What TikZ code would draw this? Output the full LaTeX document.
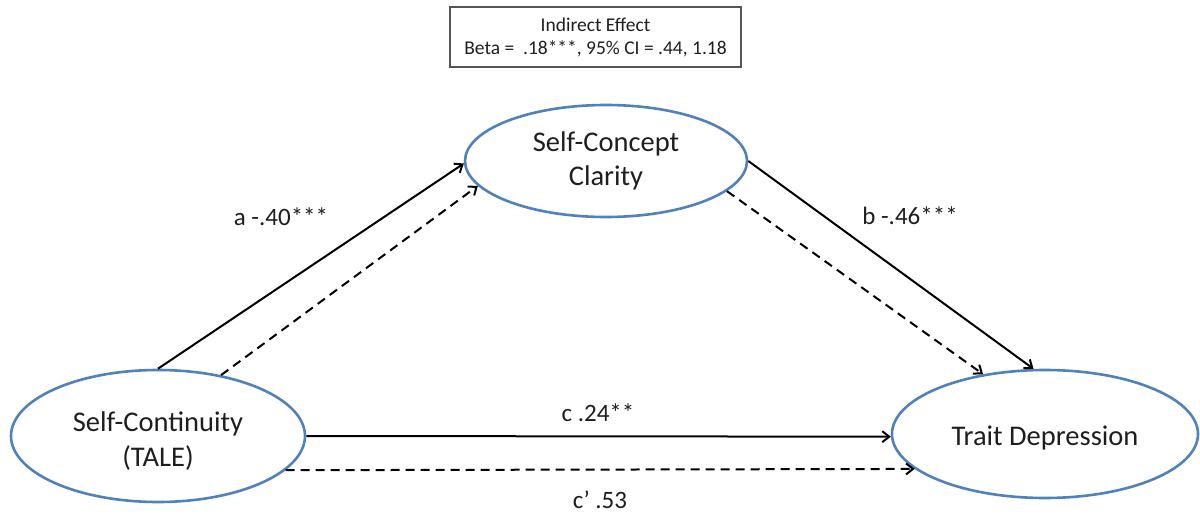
\documentclass[tikz,border=0pt]{standalone}
\usepackage{fontspec}
\setmainfont{Carlito}
\usetikzlibrary{shapes.geometric,arrows.meta}
\definecolor{ovalblue}{RGB}{79,129,189}
\definecolor{boxgray}{RGB}{85,85,85}
\definecolor{inkgray}{RGB}{30,30,30}
\begin{document}
\begin{tikzpicture}[x=1pt,y=-1pt,
  construct/.style={ellipse, draw=ovalblue, line width=2.6pt, inner sep=0pt,
    align=center, text=inkgray, font=\fontsize{28.5}{34}\selectfont},
  effect/.style={line width=2pt, -{Straight Barb[length=7pt,width=11pt]}},
  indirect/.style={effect, dash pattern=on 9pt off 6pt},
  coef/.style={text=inkgray, font=\fontsize{25}{30}\selectfont, inner sep=0pt},
  summary/.style={draw=boxgray, line width=1.3pt, minimum width=291pt,
    minimum height=60pt, align=center, text=inkgray,
    font=\fontsize{19.5}{23}\selectfont}
]
\useasboundingbox (0,0) rectangle (1200,516);

% summary of the indirect effect
\node[summary] (ie) at (595.5,37) {Indirect Effect\\Beta =\ \ .18***, 95\% CI = .44, 1.18};

% constructs
\node[construct, minimum width=282pt, minimum height=112pt] (scc) at (606,161) {Self-Concept\\Clarity};
\node[construct, minimum width=294pt, minimum height=132pt,
  font=\fontsize{28.5}{35}\selectfont, text height=67pt, text depth=7pt] (sc) at (158,436) {Self-Continuity\\(TALE)};
\node[construct, minimum width=306pt, minimum height=128pt,
  text height=28pt, text depth=6pt] (td) at (1045,434) {Trait Depression};

% direct paths (solid) and mediated paths (dashed)
\draw[effect] (sc.90) -- (scc.181);
\draw[indirect] (sc.44.5) -- (scc.191);
\draw[effect] (scc.0) -- (td.100.6);
\draw[indirect] (scc.346.6) -- (td.136.9);
\draw[effect] (sc.0) -- (td.181);
\draw[indirect] (sc.345.2) -- (td.195.9);

% path coefficients
\node[coef] (la) at (281,217) {a -.40***};
\node[coef] (lb) at (910,216) {b -.46***};
\node[coef] (lc) at (598,413) {c .24**};
\node[coef] (lcp) at (600,500) {c’ .53};
\end{tikzpicture}
\end{document}
